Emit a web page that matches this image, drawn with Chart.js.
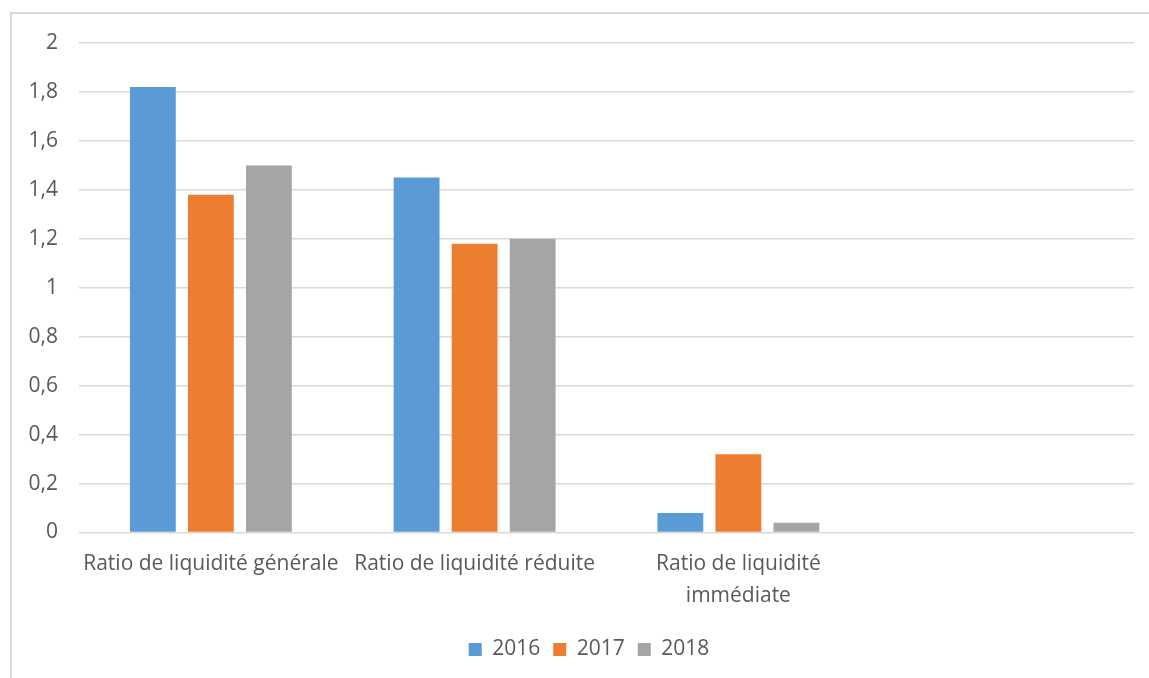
<!DOCTYPE html>
<html>
<head>
<meta charset="utf-8">
<script src="https://cdn.jsdelivr.net/npm/chart.js@4"></script>
<style>
  html, body { margin: 0; padding: 0; background: #fff; overflow: hidden; }
  #frame { position: absolute; left: 10px; top: 12px; width: 2000px; height: 2000px; border-left: 2px solid #d9d9d9; border-top: 2px solid #d9d9d9; }
  #wrap { position: absolute; left: 0; top: 0; width: 1149px; height: 678px; }
</style>
</head>
<body>
<div id="frame"></div>
<div id="wrap"><canvas id="c"></canvas></div>
<script>
const categories = [
  "Ratio de liquidité générale",
  "Ratio de liquidité réduite",
  ["Ratio de liquidité", "immédiate"],
  ""
];
const series2016 = [1.82, 1.45, 0.08, null];
const series2017 = [1.38, 1.18, 0.32, null];
const series2018 = [1.50, 1.20, 0.04, null];
const seriesNames = ["2016", "2017", "2018"];
const yTicks = [0, 0.2, 0.4, 0.6, 0.8, 1, 1.2, 1.4, 1.6, 1.8, 2];

const textColor = "#595959";
const fontFamily = "'Open Sans', sans-serif";

const legendShift = {
  id: "legendShift",
  afterLayout(chart) {
    if (chart.legend) {
      chart.legend.left += 22;
      chart.legend.right += 22;
    }
  }
};

new Chart(document.getElementById("c"), {
  type: "bar",
  data: {
    labels: categories,
    datasets: [
      { label: seriesNames[0], data: series2016, backgroundColor: "#5b9bd5" },
      { label: seriesNames[1], data: series2017, backgroundColor: "#ed7d31" },
      { label: seriesNames[2], data: series2018, backgroundColor: "#a5a5a5" }
    ]
  },
  plugins: [legendShift],
  options: {
    responsive: true,
    maintainAspectRatio: false,
    animation: false,
    datasets: { bar: { categoryPercentage: 0.66, barPercentage: 0.79 } },
    layout: { padding: { left: 0, right: 15, top: 43, bottom: 8 } },
    plugins: {
      tooltip: { enabled: false },
      legend: {
        position: "bottom",
        labels: {
          color: textColor,
          font: { family: fontFamily, size: 21 },
          boxWidth: 13,
          boxHeight: 13,
          padding: 13
        }
      }
    },
    scales: {
      x: {
        grid: { display: false },
        border: { display: false },
        ticks: {
          color: textColor,
          font: { family: fontFamily, size: 21, lineHeight: 1.5 },
          padding: 8,
          maxRotation: 0,
          autoSkip: false
        },
        afterFit(scale) { scale.height = 93.5; }
      },
      y: {
        min: 0,
        max: 2,
        afterBuildTicks(scale) { scale.ticks = yTicks.map(v => ({ value: v })); },
        grid: { color: "#d9d9d9", lineWidth: 1.5, drawTicks: false },
        border: { display: false },
        ticks: {
          color: textColor,
          font: { family: fontFamily, size: 21 },
          padding: 21,
          callback: v => String(v).replace(".", ",")
        },
        afterFit(scale) { scale.width = 79; }
      }
    }
  }
});
</script>
</body>
</html>
